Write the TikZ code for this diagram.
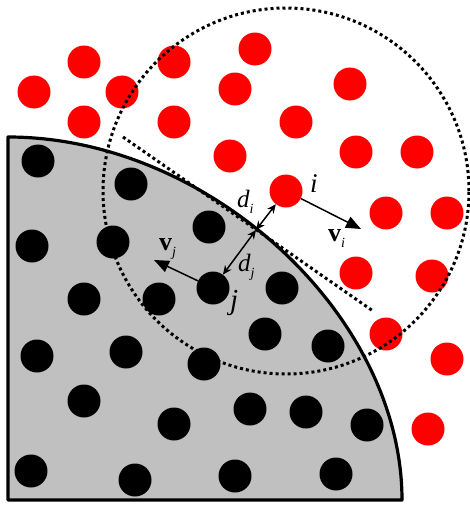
\documentclass[tikz,border=0pt]{standalone}
\usepackage{fontspec}
\setmainfont{Liberation Serif}
\usetikzlibrary{arrows.meta}
\definecolor{solidgray}{HTML}{C0C0C0}
\definecolor{pred}{HTML}{FF0000}
\newcommand\lblsize[1]{\fontsize{#1}{#1}\selectfont}
\newcommand\lbl[3]{{\lblsize{#1}#2}\raisebox{-6pt}{\lblsize{14}#3}}
\tikzset{
  redp/.style={circle,fill=pred,minimum size=33pt,inner sep=0pt,draw=none},
  blkp/.style={circle,fill=black,minimum size=33pt,inner sep=0pt,draw=none},
  dotline/.style={line width=3pt,dash pattern=on 3pt off 3pt},
  wall/.style={line width=3.2pt,line join=round},
  txt/.style={inner sep=0pt,anchor=base west},
  vel/.style={line width=1.5pt,-{Triangle[length=15pt,width=12pt]}},
  gap/.style={line width=1.5pt,{Stealth[length=9pt,width=8pt]}-{Stealth[length=9pt,width=8pt]}}
}
\begin{document}
\begin{tikzpicture}[x=1pt,y=-1pt]
\useasboundingbox (0,0) rectangle (470,506);
% solid region
\fill[solidgray] (8,137) .. controls (209,137) and (402,315) .. (402,500) -- (8,500) -- cycle;
% red particles
\foreach \n/\x/\y in {r1/84/62,r2/34/92,r3/122/92,r4/84/122,r5/174/62,r6/174/122,r7/235/89,r8/230/156,
  r9/255/49,r10/350/84,r11/296/122,r12/356/152,r13/417/152,r14/386/213,r15/447/213,
  r16/356/273,r17/432/276,r18/386/334,r19/447/359,r20/428/429}
  \node[redp] (\n) at (\x,\y) {};
\node[redp] (pi) at (286,191) {};
% black particles
\foreach \n/\x/\y in {b1/38/161,b2/131/184,b3/209/227,b4/32/246,b5/113/242,b6/84/299,b7/159/299,
  b8/37/356,b9/126/352,b10/204/364,b11/84/401,b12/174/424,b13/31/471,b14/135/480,b15/235/476,
  b16/282/288,b17/265/334,b18/328/346,b19/250/409,b20/306/412,b21/367/425,b22/336/474}
  \node[blkp] (\n) at (\x,\y) {};
\node[blkp] (pj) at (213,288) {};
% neighbourhood circle and tangent line
\draw[dotline] (pi.center) circle (183pt);
\coordinate (t1) at (123,137);
\coordinate (t2) at (373,311);
\draw[dotline] (t1) -- (t2);
% wall outline
\draw[wall] (8,137) .. controls (209,137) and (402,315) .. (402,500) -- (8,500) -- cycle;
% contact point
\coordinate (c) at (256,230);
% arrows
\coordinate (vi) at (361,229);
\coordinate (vj) at (154,260);
\draw[vel] (pi) -- (vi);
\draw[vel] (pj) -- (vj);
\draw[gap] (c) -- (pi);
\draw[gap] (c) -- (pj);
% labels
\node[txt] (li) at (310,192) {\lblsize{27}\itshape i};
\node[txt] (ldi) at (237,207) {\itshape\lbl{25}{d}{i}};
\node[txt] (lvi) at (328,241) {\lbl{26}{\bfseries v}{\itshape i}};
\node[txt] (ldj) at (238,271) {\itshape\lbl{25}{d}{j}};
\node[txt] (lvj) at (159,250) {\lbl{26}{\bfseries v}{\itshape j}};
\node[txt] (lj) at (230,309) {\lblsize{29}\itshape j};
\end{tikzpicture}
\end{document}
